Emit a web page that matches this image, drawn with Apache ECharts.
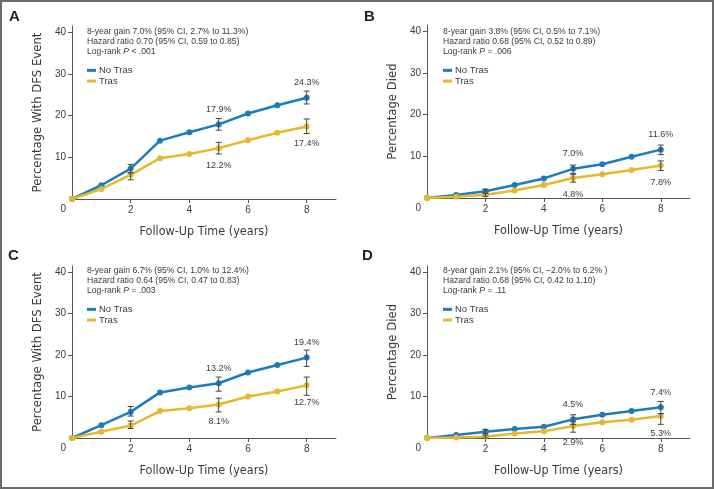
<!DOCTYPE html>
<html><head><meta charset="utf-8">
<script src="https://cdn.jsdelivr.net/npm/echarts@6/dist/echarts.min.js"></script>
<style>html,body{margin:0;padding:0;background:#fff}
#wrap{position:relative;width:714px;height:489px}
#c{position:absolute;left:0;top:0;width:714px;height:489px}
#frame{position:absolute;left:0;top:0;width:714px;height:489px;box-sizing:border-box;border:2px solid #6a6a6a;pointer-events:none}</style>
</head><body><div id="wrap"><div id="c"></div><div id="frame"></div></div>
<script>
const years = [0,1,2,3,4,5,6,7,8];
const xTicks = [2,4,6,8];
const yTicks = [0,10,20,30,40];
const errYears = [2,5,8];
const labelYears = [5,8];
const seriesNames = ['No Tras','Tras'];

const panelLetters = ['A','B','C','D'];
const yTitles = ['Percentage With DFS Event','Percentage Died','Percentage With DFS Event','Percentage Died'];
const xTitle = 'Follow-Up Time (years)';

const gainLines = ['8-year gain 7.0% (95% CI, 2.7% to 11.3%)','8-year gain 3.8% (95% CI, 0.5% to 7.1%)','8-year gain 6.7% (95% CI, 1.0% to 12.4%)','8-year gain 2.1% (95% CI, \u20132.0% to 6.2% )'];
const hrLines = ['Hazard ratio 0.70 (95% CI, 0.59 to 0.85)','Hazard ratio 0.68 (95% CI, 0.52 to 0.89)','Hazard ratio 0.64 (95% CI, 0.47 to 0.83)','Hazard ratio 0.68 (95% CI, 0.42 to 1.10)'];
const pLines = ['< .001','= .006','= .003','= .11'];

const aNoTras = [0,3.3,7.3,14.0,16.0,17.9,20.5,22.5,24.3];
const aTras   = [0,2.4,5.8,9.8,10.8,12.2,14.1,15.9,17.4];
const aNoTrasLo = [6.3,16.5,22.8], aNoTrasHi = [8.3,19.3,25.9];
const aTrasLo   = [4.6,10.8,15.7], aTrasHi   = [6.3,13.6,19.2];

const bNoTras = [0,0.7,1.6,3.1,4.7,7.0,8.1,9.9,11.6];
const bTras   = [0,0.3,0.8,1.8,3.1,4.8,5.7,6.7,7.8];
const bNoTrasLo = [1.2,5.9,10.4], bNoTrasHi = [2.1,7.9,12.7];
const bTrasLo   = [0.4,3.8,6.6],  bTrasHi   = [1.1,5.7,8.9];

const cNoTras = [0,3.1,6.3,11.0,12.2,13.2,15.8,17.6,19.4];
const cTras   = [0,1.5,3.0,6.5,7.2,8.1,10.0,11.2,12.7];
const cNoTrasLo = [5.3,11.3,17.3], cNoTrasHi = [7.6,14.7,21.2];
const cTrasLo   = [2.3,6.3,10.3],  cTrasHi   = [4.1,9.6,14.7];

const dNoTras = [0,0.7,1.5,2.2,2.7,4.5,5.6,6.5,7.4];
const dTras   = [0,0.1,0.3,1.1,1.6,2.9,3.8,4.4,5.3];
const dNoTrasLo = [1.0,3.3,5.9], dNoTrasHi = [2.1,5.6,8.8];
const dTrasLo   = [0.0,1.4,3.3], dTrasHi   = [0.7,3.9,5.9];

const panels = [
  {no:aNoTras, tr:aTras, noLo:aNoTrasLo, noHi:aNoTrasHi, trLo:aTrasLo, trHi:aTrasHi},
  {no:bNoTras, tr:bTras, noLo:bNoTrasLo, noHi:bNoTrasHi, trLo:bTrasLo, trHi:bTrasHi},
  {no:cNoTras, tr:cTras, noLo:cNoTrasLo, noHi:cNoTrasHi, trLo:cTrasLo, trHi:cTrasHi},
  {no:dNoTras, tr:dTras, noLo:dNoTrasLo, noHi:dNoTrasHi, trLo:dTrasLo, trHi:dTrasHi}
];

const BLUE = '#1b7cc0', GOLD = '#e6b830', TXT = '#3a3a3a', AX = '#555';
const NARROW = "'DejaVu Sans Condensed', sans-serif";
const SANS = "'Liberation Sans', Arial, sans-serif";

const layout = [
  {left:72, top:26, width:264, height:173, lx:9, ly:9, tx:87, ty:27},
  {left:427, top:25, width:263, height:173, lx:364, ly:9, tx:443, ty:27},
  {left:72, top:266, width:264, height:172, lx:8, ly:248, tx:87, ty:266},
  {left:427, top:266, width:263, height:172, lx:362, ly:248, tx:443, ty:266}
];

const grids=[], xAxes=[], yAxes=[], series=[], titles=[], legends=[];
layout.forEach((L,i)=>{
  grids.push({left:L.left, top:L.top, width:L.width, height:L.height});
  xAxes.push({type:'value', gridIndex:i, min:0, max:9, interval:1,
    name:xTitle, nameLocation:'middle', nameGap:26,
    nameTextStyle:{fontFamily:NARROW, fontSize:12.5, color:TXT},
    axisLine:{lineStyle:{color:AX, width:1}},
    axisTick:{show:true, length:4, lineStyle:{color:AX}, customValues: xTicks},
    axisLabel:{fontFamily:SANS, fontSize:10, color:TXT, margin:6, customValues: xTicks},
    splitLine:{show:false}});
  yAxes.push({type:'value', gridIndex:i, min:0, max:41.5, interval:10,
    name:yTitles[i], nameLocation:'middle', nameGap:28, nameRotate:90,
    nameTextStyle:{fontFamily:NARROW, fontSize:13, color:TXT},
    axisLine:{show:true, lineStyle:{color:AX, width:1}},
    axisTick:{show:true, length:4, lineStyle:{color:AX}, customValues: yTicks.slice(1)},
    axisLabel:{fontFamily:SANS, fontSize:10, color:TXT, margin:6, customValues: yTicks,
      formatter: v => v===0 ? '{z|0}' : String(v),
      rich:{z:{fontFamily:SANS, fontSize:10, color:TXT, padding:[20,0,0,0]}}},
    splitLine:{show:false}});
  titles.push({text:panelLetters[i], left:L.lx, top:L.ly, padding:0,
    textStyle:{fontFamily:SANS, fontWeight:'bold', fontSize:15, color:'#222'}});
  titles.push({left:L.tx, top:L.ty, padding:0,
    text: gainLines[i]+'\n'+hrLines[i]+'\n{n|Log-rank }{i|P}{n| '+pLines[i]+'}',
    textStyle:{fontFamily:SANS, fontSize:8.6, fontWeight:'normal', color:TXT, lineHeight:10,
      rich:{n:{fontFamily:SANS, fontSize:8.6, color:TXT, lineHeight:10},
            i:{fontFamily:SANS, fontSize:8.6, fontStyle:'italic', color:TXT, lineHeight:10}}}});
  legends.push({data:seriesNames, orient:'vertical', left:L.tx, top:L.ty+38, padding:0,
    icon:'rect', itemWidth:9, itemHeight:3, itemGap:0,
    textStyle:{fontFamily:SANS, fontSize:9.5, color:TXT, lineHeight:10.7, padding:[0,0,0,-2]}});
  const P = panels[i];
  [[P.no, BLUE, 'top', P.noLo, P.noHi, seriesNames[0], 7.5], [P.tr, GOLD, 'bottom', P.trLo, P.trHi, seriesNames[1], 9.5]].forEach(([vals,col,pos,lo,hi,nm,dist])=>{
    series.push({type:'line', name:nm, xAxisIndex:i, yAxisIndex:i, color:col,
      symbol:'circle', symbolSize:6, lineStyle:{width:2.5, color:col}, itemStyle:{color:col},
      z:3,
      data: years.map((x,k)=>{
        const d = {value:[x, vals[k]]};
        if (labelYears.includes(x)) d.label = {show:true, position:pos, distance:dist,
          formatter: p => p.value[1].toFixed(1)+'%', fontFamily:SANS, fontSize:9, color:TXT};
        return d;
      })
    });
    series.push({type:'custom', name:nm+' CI', xAxisIndex:i, yAxisIndex:i, z:4,
      data: errYears.map((x,k)=>[x, lo[k], hi[k]]),
      renderItem:(params, api)=>{
        const a = api.coord([api.value(0), api.value(1)]);
        const b = api.coord([api.value(0), api.value(2)]);
        const w = 3;
        const st = {stroke:'#444', lineWidth:1};
        return {type:'group', children:[
          {type:'line', shape:{x1:a[0], y1:a[1], x2:b[0], y2:b[1]}, style:st},
          {type:'line', shape:{x1:a[0]-w, y1:a[1], x2:a[0]+w, y2:a[1]}, style:st},
          {type:'line', shape:{x1:b[0]-w, y1:b[1], x2:b[0]+w, y2:b[1]}, style:st}
        ]};
      }
    });
  });
});

const chart = echarts.init(document.getElementById('c'), null, {renderer:'canvas'});
chart.setOption({
  animation:false, backgroundColor:'#fff',
  title: titles, legend: legends, grid: grids, xAxis: xAxes, yAxis: yAxes, series: series
});
</script></body></html>
